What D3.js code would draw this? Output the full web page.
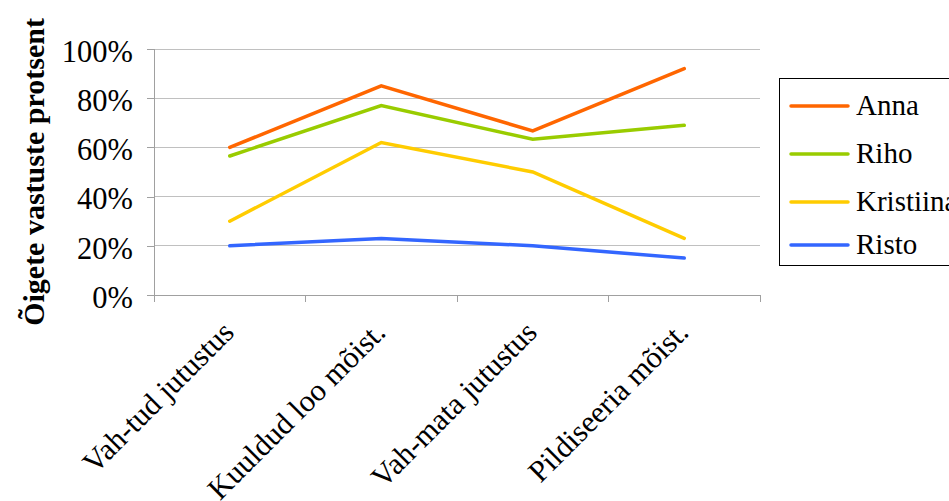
<!DOCTYPE html>
<html><head><meta charset="utf-8">
<script src="https://cdn.jsdelivr.net/npm/d3@7"></script>
<style>body{margin:0;background:#fff}svg{display:block}</style>
</head><body><svg id="c" width="949" height="501"></svg>
<script>
const categories = ["Vah-tud jutustus","Kuuldud loo mõist.","Vah-mata jutustus","Pildiseeria mõist."];
const seriesNames = ["Anna","Riho","Kristiina","Risto"];
const anna = [0.60,0.85,0.667,0.92];
const riho = [0.565,0.77,0.633,0.69];
const kristiina = [0.30,0.62,0.50,0.23];
const risto = [0.20,0.23,0.20,0.15];
const colors = ["#FF6600","#99CC00","#FFCC00","#3366FF"];
const yTicks = [0,0.2,0.4,0.6,0.8,1.0];
const series = [anna,riho,kristiina,risto];
const FONT = '"Liberation Serif"';

const svg = d3.select("#c");
const L=154,R=760,T=49,B=295;
const x = d3.scaleBand().domain(categories).range([L,R]);
const y = d3.scaleLinear().domain([0,1]).range([B,T]);

svg.append("g").selectAll("line").data(yTicks.slice(1)).join("line")
 .attr("x1",L).attr("x2",R).attr("y1",d=>y(d)).attr("y2",d=>y(d))
 .attr("stroke","#c0c0c0").attr("stroke-width",1).attr("shape-rendering","crispEdges");

const ya = svg.append("g").attr("transform",`translate(${L},0)`)
 .call(d3.axisLeft(y).tickValues(yTicks).tickSize(7).tickPadding(14).tickFormat(d3.format(".0%")));
ya.select(".domain").attr("stroke","#a0a0a0").attr("shape-rendering","crispEdges");
ya.selectAll(".tick line").attr("stroke","#a0a0a0").attr("shape-rendering","crispEdges");
ya.selectAll("text").style("font-family",FONT).style("font-size","30.5px").attr("dy","0.4em").attr("fill","#000");

const xa = svg.append("g").attr("transform",`translate(0,${B})`)
 .call(d3.axisBottom(x).tickSize(0).tickFormat(""));
xa.select(".domain").attr("stroke","#a0a0a0").attr("shape-rendering","crispEdges");
const bounds = [L].concat(categories.map(c=>x(c)+x.bandwidth()));
svg.append("g").selectAll("line").data(bounds).join("line")
 .attr("x1",d=>d).attr("x2",d=>d).attr("y1",B).attr("y2",B+7)
 .attr("stroke","#a0a0a0").attr("shape-rendering","crispEdges");
svg.append("g").selectAll("text").data(categories).join("text")
 .attr("transform",d=>`translate(${x(d)+x.bandwidth()/2+6},${B+39}) rotate(-45)`)
 .attr("text-anchor","end").style("font-family",FONT).style("font-size","30.5px").attr("fill","#000").text(d=>d);

const line = d3.line().x((d,i)=>x(categories[i])+x.bandwidth()/2).y(d=>y(d));
svg.append("g").selectAll("path").data(series).join("path")
 .attr("d",line).attr("fill","none").attr("stroke",(d,i)=>colors[i])
 .attr("stroke-width",3.5).attr("stroke-linejoin","miter").attr("stroke-linecap","round");

svg.append("text").attr("transform",`translate(44,172) rotate(-90)`)
 .attr("text-anchor","middle").style("font-family",FONT).style("font-size","30px").style("font-weight","bold").attr("fill","#000")
 .text("Õigete vastuste protsent");

const lg = svg.append("g");
lg.append("rect").attr("x",779.5).attr("y",78.5).attr("width",200).attr("height",187)
 .attr("fill","#fff").attr("stroke","#000").attr("stroke-width",1);
const ly = [106,154,202,245];
seriesNames.forEach((n,i)=>{
 lg.append("line").attr("x1",791).attr("x2",848).attr("y1",ly[i]).attr("y2",ly[i])
  .attr("stroke",colors[i]).attr("stroke-width",3.5).attr("stroke-linecap","round");
 lg.append("text").attr("x",856).attr("y",ly[i]+9).style("font-family",FONT).style("font-size","29px").attr("fill","#000").text(n);
});
</script></body></html>
